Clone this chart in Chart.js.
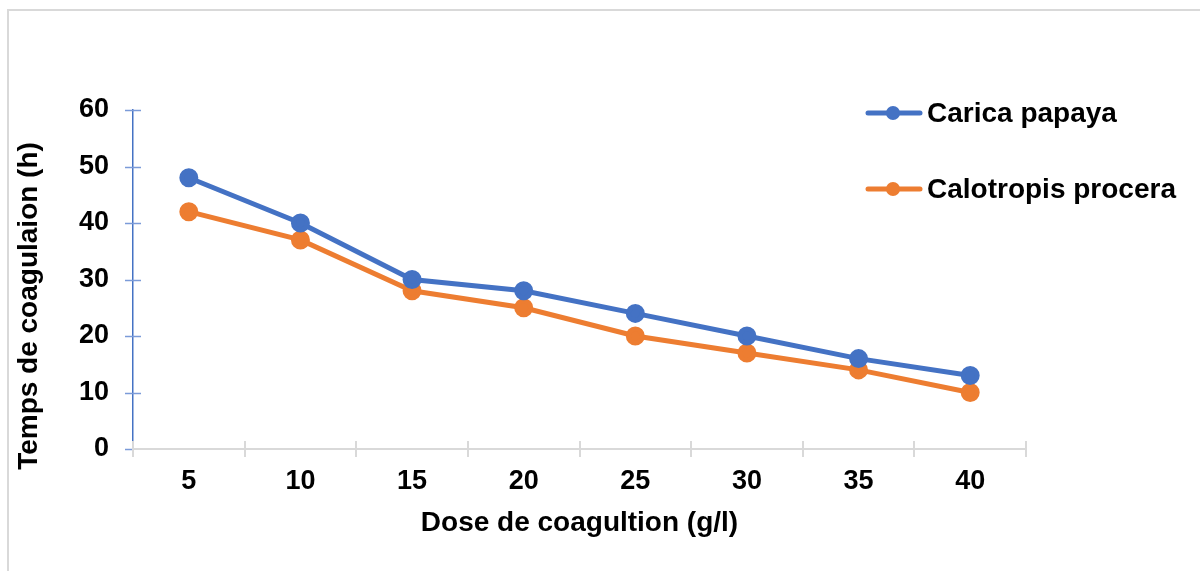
<!DOCTYPE html>
<html>
<head>
<meta charset="utf-8">
<script src="https://cdn.jsdelivr.net/npm/chart.js@4/dist/chart.umd.min.js"></script>
<style>
  body { margin: 0; background: #fff; }
  #wrap { position: relative; width: 1200px; height: 571px; overflow: hidden; }
  #frame { position: absolute; left: 7px; top: 9px; width: 1300px; height: 700px;
           border-left: 2px solid #d9d9d9; border-top: 2px solid #d9d9d9; }
  canvas { position: absolute; left: 0; top: 0; }
</style>
</head>
<body>
<div id="wrap">
  <div id="frame"></div>
  <canvas id="myChart" width="1200" height="571"></canvas>
</div>
<script>
document.addEventListener('DOMContentLoaded', function() {
    // données
    var doses = ['5', '10', '15', '20', '25', '30', '35', '40'];
    var caricaPapaya = [48, 40, 30, 28, 24, 20, 16, 13];
    var calotropisProcera = [42, 37, 28, 25, 20, 17, 14, 10];
    var yTicks = [0, 10, 20, 30, 40, 50, 60];
    var xTitle = 'Dose de coagultion (g/l)';
    var yTitle = 'Temps de coagulaion (h)';

    var blue = '#4472C4';
    var orange = '#ED7D31';
    var fontFam = '"Liberation Sans", Arial, sans-serif';

    // petites croix sur les axes (comme Excel)
    var axisTicks = {
        id: 'axisTicks',
        beforeDatasetsDraw: function(chart) {
            var c = chart.ctx, y = chart.scales.y;
            var area = chart.chartArea;
            c.save();
            c.strokeStyle = '#7b9bd8';
            c.lineWidth = 1.5;
            yTicks.forEach(function(v) {
                var py = Math.round(y.getPixelForValue(v)) + 0.5;
                c.beginPath();
                c.moveTo(area.left - 8, py);
                c.lineTo(area.left + (v === 0 ? 0 : 8), py);
                c.stroke();
            });
            c.strokeStyle = '#d9d9d9';
            c.lineWidth = 2;
            var step = (area.right - area.left) / doses.length;
            for (var i = 0; i <= doses.length; i++) {
                var px = Math.round(area.left + i * step);
                c.beginPath();
                c.moveTo(px, area.bottom - 8);
                c.lineTo(px, area.bottom + 8);
                c.stroke();
            }
            c.restore();
        }
    };

    // titres des axes + légende à droite
    var extras = {
        id: 'extras',
        afterDraw: function(chart) {
            var c = chart.ctx;
            var area = chart.chartArea;
            c.save();
            c.fillStyle = '#000';
            c.font = 'bold 28px ' + fontFam;
            c.textAlign = 'center';
            c.textBaseline = 'alphabetic';
            c.fillText(xTitle, (area.left + area.right) / 2, 531);
            c.save();
            c.translate(37, 306);
            c.rotate(-Math.PI / 2);
            c.fillText(yTitle, 0, 0);
            c.restore();

            var rows = [113, 189];
            chart.data.datasets.forEach(function(ds, i) {
                var yy = rows[i];
                c.strokeStyle = ds.borderColor;
                c.lineWidth = 5;
                c.lineCap = 'round';
                c.beginPath();
                c.moveTo(868, yy);
                c.lineTo(920, yy);
                c.stroke();
                c.fillStyle = ds.borderColor;
                c.beginPath();
                c.arc(893, yy, 7, 0, Math.PI * 2);
                c.fill();
                c.fillStyle = '#000';
                c.textBaseline = 'middle';
                c.textAlign = 'left';
                c.fillText(ds.label, 927, yy + 1);
            });
            c.restore();
        }
    };

    var data = {
        labels: doses,
        datasets: [{
            label: 'Carica papaya',
            data: caricaPapaya,
            borderColor: blue,
            backgroundColor: blue,
            borderWidth: 5,
            pointRadius: 7,
            pointHoverRadius: 7
        }, {
            label: 'Calotropis procera',
            data: calotropisProcera,
            borderColor: orange,
            backgroundColor: orange,
            borderWidth: 5,
            pointRadius: 7,
            pointHoverRadius: 7
        }]
    };

    var options = {
        responsive: false,
        animation: false,
        layout: { padding: { left: 0, top: 110, right: 174, bottom: 0 } },
        plugins: { legend: { display: false }, tooltip: { enabled: false } },
        scales: {
            x: {
                offset: true,
                grid: { display: false, drawTicks: false },
                border: { display: true, color: '#d9d9d9', width: 2 },
                ticks: { color: '#000', padding: 16, font: { family: fontFam, size: 27, weight: 'bold' } },
                afterFit: function(s) { s.height = 122; }
            },
            y: {
                min: 0, max: 60,
                grid: { display: false, drawTicks: false },
                border: { display: true, color: blue, width: 1.5 },
                ticks: { stepSize: 10, color: '#000', padding: 24, font: { family: fontFam, size: 27, weight: 'bold' } },
                afterFit: function(s) { s.width = 133; }
            }
        }
    };

    var ctx = document.getElementById('myChart').getContext('2d');
    var myChart = new Chart(ctx, {
        type: 'line',
        data: data,
        options: options,
        plugins: [axisTicks, extras]
    });
});
</script>
</body>
</html>
